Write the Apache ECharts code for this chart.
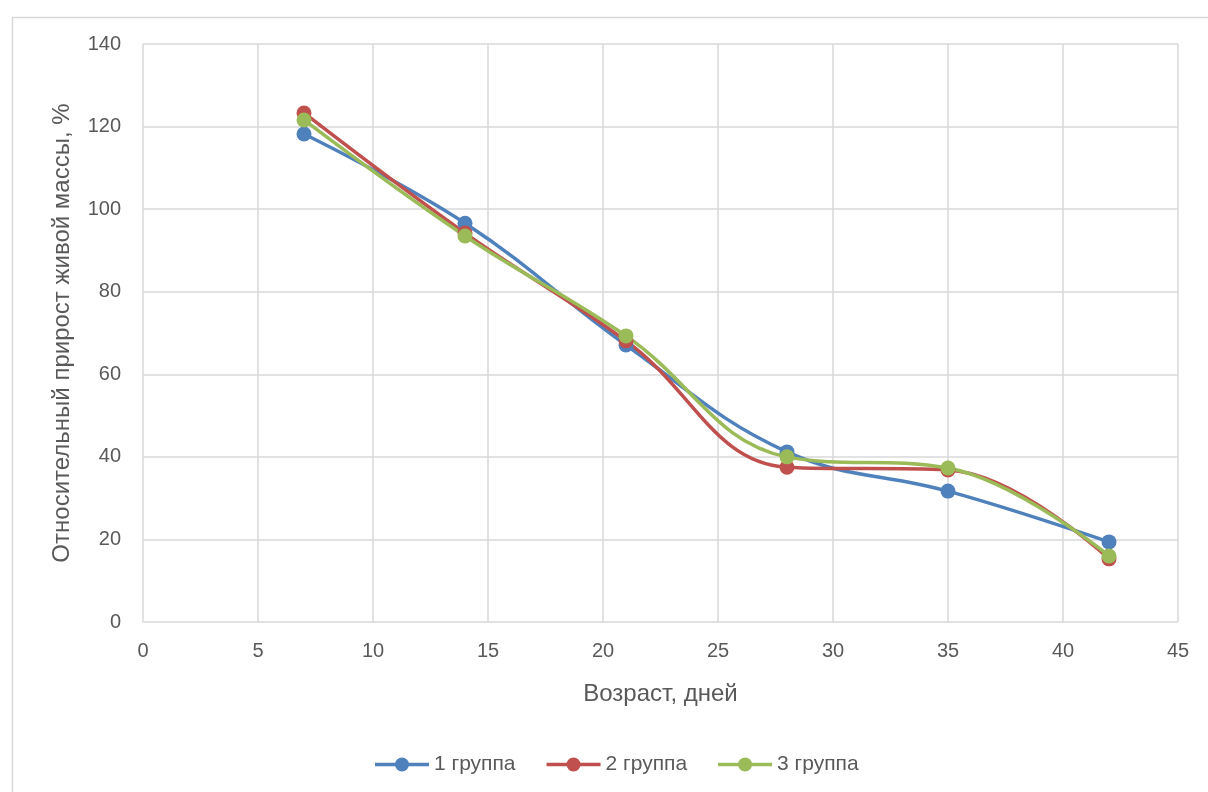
<!DOCTYPE html>
<html><head><meta charset="utf-8">
<script src="https://cdn.jsdelivr.net/npm/echarts@6/dist/echarts.min.js"></script>
<style>html,body{margin:0;padding:0;background:#fff}#c{width:1208px;height:792px}</style>
</head><body><div id="c"></div>
<script>
const xValues = [7, 14, 21, 28, 35, 42];
const group1 = [118.2, 96.6, 67.1, 41.2, 31.7, 19.4];
const group2 = [123.3, 94.2, 68.1, 37.5, 36.8, 15.3];
const group3 = [121.6, 93.5, 69.3, 40.0, 37.3, 16.0];
const seriesNames = ['1 группа', '2 группа', '3 группа'];
const colors = ['#4f81bd', '#c0504d', '#9bbb59'];
const font = 'Liberation Sans, Arial, sans-serif';
const legendIcon = 'path://M0,5.3 L20.5,5.3 L20.5,8.7 L0,8.7 Z M33.5,5.3 L54,5.3 L54,8.7 L33.5,8.7 Z M20,7 A7,7 0 1,1 34,7 A7,7 0 1,1 20,7 Z';
const chart = echarts.init(document.getElementById('c'));
const mk = (name, vals, color) => ({
  name, type: 'line', smooth: 0.4,
  data: xValues.map((x, i) => [x, vals[i]]),
  symbol: 'circle', symbolSize: 15,
  lineStyle: { width: 3.5, color }, itemStyle: { color },
  emphasis: { disabled: true }
});
chart.setOption({
  animation: false,
  graphic: [{ type: 'rect', left: 10, top: 15, shape: { width: 1220, height: 800 },
    style: { fill: 'none', stroke: '#d9d9d9', lineWidth: 1.5 }, silent: true }],
  grid: { left: 143, right: 30, top: 44, bottom: 170 },
  xAxis: {
    type: 'value', min: 0, max: 45, interval: 5,
    name: 'Возраст, дней', nameLocation: 'middle', nameGap: 60,
    nameTextStyle: { color: '#595959', fontSize: 24, fontFamily: font },
    axisLine: { show: false }, axisTick: { show: false },
    axisLabel: { color: '#595959', fontSize: 20, fontFamily: font, margin: 19 },
    splitLine: { show: true, lineStyle: { color: '#d9d9d9', width: 1.5 } }
  },
  yAxis: {
    type: 'value', min: 0, max: 140, interval: 20,
    name: 'Относительный прирост живой массы, %', nameLocation: 'middle', nameGap: 69,
    nameTextStyle: { color: '#595959', fontSize: 24, fontFamily: font },
    axisLine: { show: false }, axisTick: { show: false },
    axisLabel: { color: '#595959', fontSize: 20, fontFamily: font, margin: 22 },
    splitLine: { show: true, lineStyle: { color: '#d9d9d9', width: 1.5 } }
  },
  legend: {
    top: 749, left: 370, itemWidth: 54, itemHeight: 14, itemGap: 31,
    textStyle: { color: '#595959', fontSize: 21, fontFamily: font },
    data: seriesNames.map((n) => ({ name: n, icon: legendIcon }))
  },
  series: [mk(seriesNames[0], group1, colors[0]), mk(seriesNames[1], group2, colors[1]), mk(seriesNames[2], group3, colors[2])]
});
</script></body></html>
